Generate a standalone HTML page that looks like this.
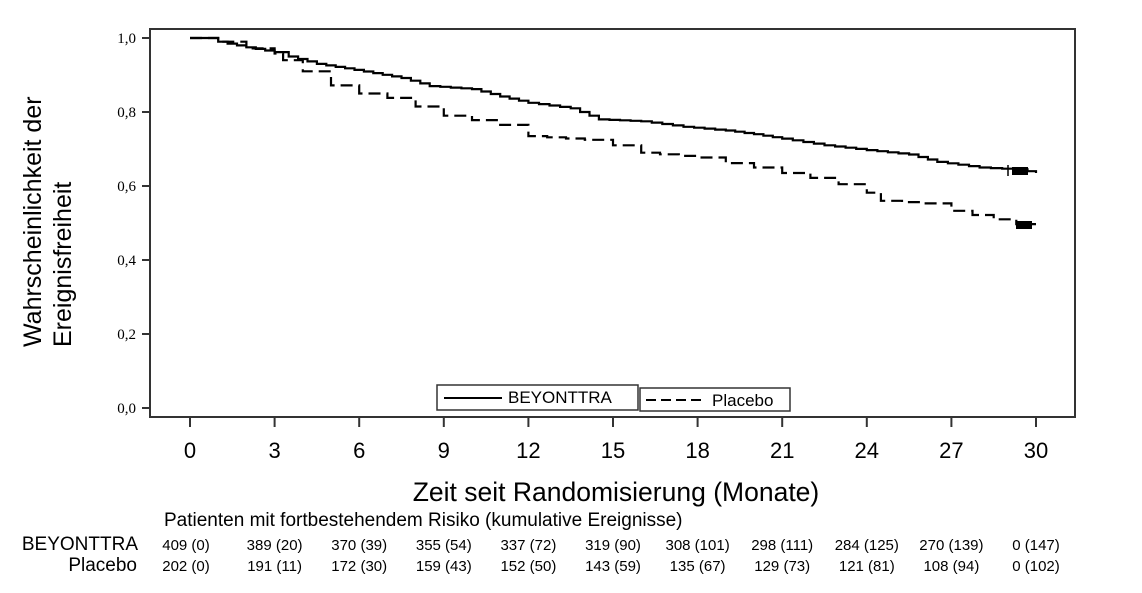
<!DOCTYPE html>
<html><head><meta charset="utf-8"><style>body{margin:0;background:#fff}svg{display:block}</style></head><body>
<svg id="s" width="1142" height="593" xmlns="http://www.w3.org/2000/svg" font-family="Liberation Sans, sans-serif">
<rect x="150" y="29" width="925" height="388" fill="none" stroke="#333" stroke-width="2"/>
<g font-family="Liberation Serif, serif" font-size="15" text-anchor="end">
<text x="136" y="43">1,0</text><text x="136" y="117">0,8</text><text x="136" y="191">0,6</text>
<text x="136" y="265">0,4</text><text x="136" y="339">0,2</text><text x="136" y="413">0,0</text>
</g>
<g stroke="#333" stroke-width="2">
<line x1="142" y1="38" x2="150" y2="38"/><line x1="142" y1="112" x2="150" y2="112"/><line x1="142" y1="186" x2="150" y2="186"/>
<line x1="142" y1="260" x2="150" y2="260"/><line x1="142" y1="334" x2="150" y2="334"/><line x1="142" y1="408" x2="150" y2="408"/>
</g>
<g id="xt"></g>
<text transform="translate(41,347) rotate(-90)" font-size="25">Wahrscheinlichkeit  der</text>
<text transform="translate(71,347) rotate(-90)" font-size="25">Ereignisfreiheit</text>
<text x="616" y="501" font-size="26.5" text-anchor="middle">Zeit seit Randomisierung (Monate)</text>
<text x="164" y="526" font-size="19">Patienten mit fortbestehendem Risiko (kumulative Ereignisse)</text>
<text x="138" y="550" font-size="19" text-anchor="end">BEYONTTRA</text>
<text x="137" y="571" font-size="19" text-anchor="end">Placebo</text>
<g id="rt" font-size="15" text-anchor="middle"></g>
<path id="p1" fill="none" stroke="#000" stroke-width="2.2"/>
<path id="p2" fill="none" stroke="#000" stroke-width="2.2" stroke-dasharray="12,6"/>
<rect x="1012" y="167" width="16" height="8" fill="#000"/>
<rect x="1016" y="221" width="16" height="8" fill="#000"/>
<line x1="1008" y1="165" x2="1008" y2="176" stroke="#000" stroke-width="1.5"/>
<rect x="437" y="385" width="201" height="25" fill="#fff" stroke="#333" stroke-width="1.5"/>
<line x1="444" y1="398" x2="502" y2="398" stroke="#000" stroke-width="2"/>
<text x="508" y="403" font-size="17">BEYONTTRA</text>
<rect x="640" y="388" width="150" height="23" fill="#fff" stroke="#333" stroke-width="1.5"/>
<line x1="646" y1="400" x2="706" y2="400" stroke="#000" stroke-width="2" stroke-dasharray="10,5"/>
<text x="712" y="406" font-size="17">Placebo</text>
</svg>
<script>
var X=m=>190+m*28.2,Y=v=>408-v*370;
var xt=document.getElementById('xt'),h='';
for(var i=0;i<=30;i+=3){h+='<line x1="'+X(i)+'" y1="417" x2="'+X(i)+'" y2="427" stroke="#333" stroke-width="2"/><text x="'+X(i)+'" y="458" font-size="22" text-anchor="middle">'+i+'</text>';}
xt.innerHTML=h;
var r1=["409 (0)","389 (20)","370 (39)","355 (54)","337 (72)","319 (90)","308 (101)","298 (111)","284 (125)","270 (139)","0 (147)"];
var r2=["202 (0)","191 (11)","172 (30)","159 (43)","152 (50)","143 (59)","135 (67)","129 (73)","121 (81)","108 (94)","0 (102)"];
h='';for(i=0;i<11;i++){var x=X(i*3)-(i==0?4:0);h+='<text x="'+x+'" y="550">'+r1[i]+'</text><text x="'+x+'" y="571">'+r2[i]+'</text>';}
document.getElementById('rt').innerHTML=h;
function P(a,st){var d='M'+X(0)+','+Y(a[0][1]);
for(var k=1;k<a.length;k++){var m0=a[k-1][0],m1=a[k][0],v0=a[k-1][1],v1=a[k][1];
var n=Math.max(1,Math.round((m1-m0)/st));for(var j=1;j<=n;j++){var mm=m0+(m1-m0)*j/n,vv=v0+(v1-v0)*j/n;d+=' H'+X(mm).toFixed(1)+' V'+Y(vv).toFixed(1);}}
return d;}
var s=[[0,1],[0.6,1],[1,0.99],[2,0.975],[3,0.962],[3.5,0.95],[4.5,0.93],[5.5,0.918],[6.5,0.905],[7.5,0.892],[8.5,0.87],[10,0.862],[11,0.842],[12,0.825],[13.5,0.81],[14.5,0.78],[16,0.775],[17.5,0.76],[19,0.75],[20,0.74],[21,0.728],[22.5,0.71],[24,0.697],[25.5,0.685],[26.5,0.665],[28,0.65],[29.2,0.645],[29.7,0.64],[30,0.635]];
var p=[[0,1],[1,0.99],[2,0.972],[3,0.958],[3.3,0.94],[4,0.91],[5,0.872],[6,0.85],[7,0.838],[8,0.815],[9,0.79],[10,0.778],[11,0.765],[12,0.735],[14,0.725],[15,0.71],[16,0.69],[18,0.677],[19,0.662],[20,0.65],[21,0.635],[22,0.622],[23,0.605],[24,0.582],[24.5,0.56],[26,0.553],[27,0.533],[28.5,0.51],[29.3,0.497],[30,0.497]];
document.getElementById('p1').setAttribute('d',P(s,0.35));
document.getElementById('p2').setAttribute('d',P(p,0.7));
</script>
</body></html>
